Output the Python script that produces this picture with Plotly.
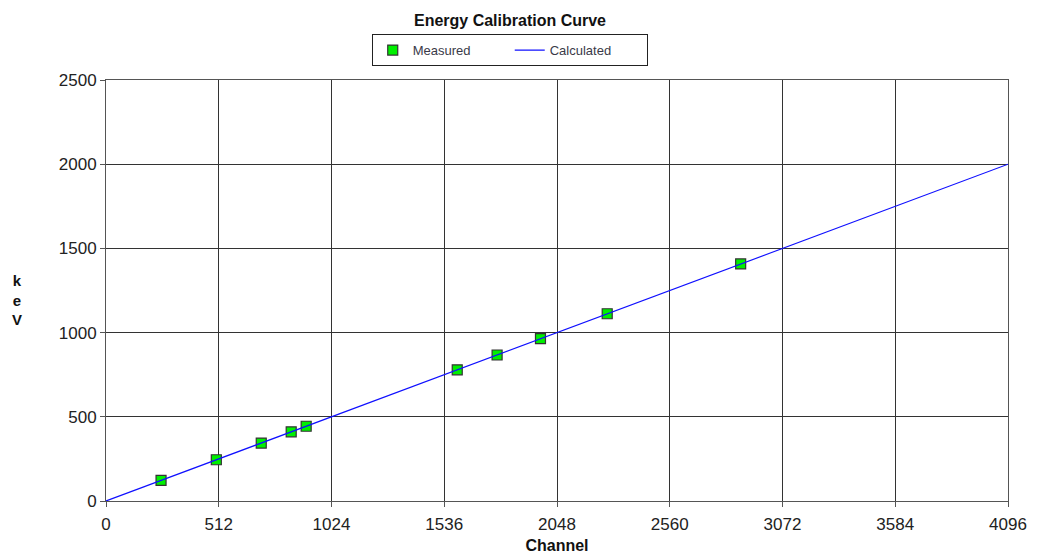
import plotly.graph_objects as go

channels = [250, 501, 705, 841, 909, 1595, 1776, 1973, 2276, 2882]
kev = [122, 245, 344, 411, 444, 779, 867, 964, 1112, 1408]
calc_channels = [0, 4096]
calc_kev = [0, 2000]
x_ticks = [0, 512, 1024, 1536, 2048, 2560, 3072, 3584, 4096]
y_ticks = [0, 500, 1000, 1500, 2000, 2500]

FONT = "Liberation Sans, Arial, sans-serif"

fig = go.Figure()
fig.add_trace(go.Scatter(
    x=channels, y=kev, mode="markers", name="Measured",
    marker=dict(symbol="square", size=10, color="#00f000",
                line=dict(color="#333333", width=1.2)),
))
fig.add_trace(go.Scatter(
    x=calc_channels, y=calc_kev, mode="lines", name="Calculated",
    line=dict(color="#1010ff", width=1.2),
))

fig.update_layout(
    width=1037, height=554,
    margin=dict(l=106, r=29, t=80, b=53),
    paper_bgcolor="white", plot_bgcolor="white",
    font=dict(family=FONT, color="#222222"),
    title=dict(text="<b>Energy Calibration Curve</b>", x=510/1037, xanchor="center",
               xref="container", y=1 - 20/554, yanchor="middle", yref="container",
               font=dict(size=16, color="#111111", family=FONT)),
    legend=dict(orientation="h", x=0.4476, xanchor="center", y=1.109, yanchor="top",
                bordercolor="#222222", borderwidth=1, bgcolor="white",
                font=dict(size=13, color="#3a3a48", family=FONT),
                entrywidth=92, tracegroupgap=0),
    showlegend=True,
    xaxis=dict(range=[0, 4096], tickvals=x_ticks, ticktext=[str(v) for v in x_ticks],
               automargin=False,
               showgrid=True, gridcolor="#333333", gridwidth=1,
               showline=True, linecolor="#555555", linewidth=1, mirror=True,
               ticks="outside", ticklen=5, tickcolor="#555555", ticklabelstandoff=3,
               tickfont=dict(size=17, color="#222222"), zeroline=False,
               title=dict(text="<b>Channel</b>", font=dict(size=16, color="#111111"), standoff=8)),
    yaxis=dict(range=[0, 2500], tickvals=y_ticks, automargin=False,
               showgrid=True, gridcolor="#333333", gridwidth=1,
               showline=True, linecolor="#555555", linewidth=1, mirror=True,
               ticks="outside", ticklen=5, tickcolor="#555555",
               tickfont=dict(size=17, color="#222222"), zeroline=False),
    annotations=[dict(text="<b>k<br>e<br>V</b>", x=(17 - 106) / 902, y=(501 - 300) / 421,
                      xref="paper", yref="paper",
                      showarrow=False, font=dict(size=15, color="#111111"),
                      xanchor="center", yanchor="middle")],
)
fig.write_html("out.html")
